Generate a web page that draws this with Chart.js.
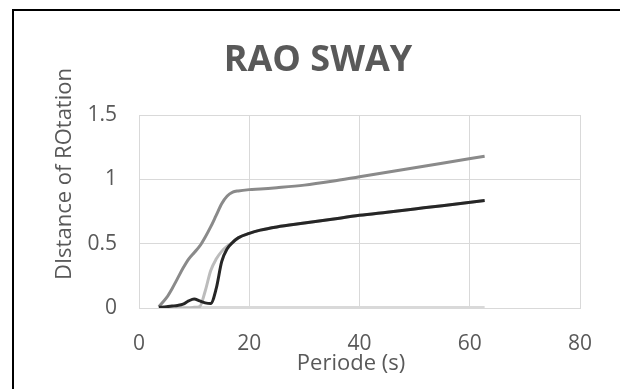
<!DOCTYPE html>
<html>
<head>
<meta charset="utf-8">
<script src="https://cdn.jsdelivr.net/npm/chart.js@4"></script>
<style>
  html, body { margin: 0; padding: 0; background: #fff; overflow: hidden; }
  .frame { position: absolute; left: 12px; top: 9px; width: 700px; height: 500px; border: 2px solid #000; }
  #raoSway { position: absolute; left: 0; top: 0; }
</style>
</head>
<body>
<div class="frame"></div>
<canvas id="raoSway" width="620" height="389"></canvas>
<script>
  // periods (s) shared by every series
  const periods = [3.6, 5, 6, 7, 8, 9, 10, 11, 12, 13, 14, 15, 16, 17, 18, 20, 22, 25, 30, 35, 40, 45, 50, 55, 62.7];

  const rotationUpper = [0.01, 0.08, 0.15, 0.23, 0.31, 0.38, 0.43, 0.48, 0.55, 0.63, 0.72, 0.81, 0.87, 0.90, 0.91, 0.92, 0.925, 0.935, 0.955, 0.985, 1.02, 1.055, 1.09, 1.125, 1.18];
  const rotationMid = [0, 0, 0, 0, 0, 0, 0.005, 0.01, 0.13, 0.29, 0.38, 0.44, 0.48, 0.51, 0.545, 0.58, 0.605, 0.63, 0.66, 0.69, 0.72, 0.745, 0.77, 0.795, 0.835];
  const rotationLower = [0.005, 0.01, 0.015, 0.02, 0.03, 0.055, 0.07, 0.055, 0.04, 0.035, 0.15, 0.36, 0.46, 0.51, 0.545, 0.58, 0.605, 0.63, 0.66, 0.69, 0.72, 0.745, 0.77, 0.795, 0.835];
  const rotationFlat = [0, 0, 0, 0, 0, 0, 0, 0, 0, 0, 0, 0, 0, 0, 0, 0, 0, 0, 0, 0, 0, 0, 0, 0, 0];

  const xTicks = [0, 20, 40, 60, 80];
  const yTicks = [0, 0.5, 1, 1.5];

  const textGray = '#595959';
  const gridGray = '#d9d9d9';
  const fontFamily = 'Open Sans';

  function toPoints(values) {
    return periods.map((p, i) => ({ x: p, y: values[i] }));
  }

  function series(label, values, color, width, order) {
    return {
      label: label,
      data: toPoints(values),
      borderColor: color,
      backgroundColor: color,
      borderWidth: width,
      pointRadius: 0,
      cubicInterpolationMode: 'monotone',
      order: order
    };
  }

  // axis titles sit where the spreadsheet put them, not centred on the plot
  const axisTitles = {
    id: 'axisTitles',
    afterDraw(chart) {
      const c = chart.ctx;
      c.save();
      c.fillStyle = textGray;
      c.font = '22px "' + fontFamily + '"';
      c.textAlign = 'center';
      c.textBaseline = 'middle';
      c.fillText('Periode (s)', 351, 364);
      c.translate(65, 174);
      c.rotate(-Math.PI / 2);
      c.fillText('DIstance of ROtation', 0, 0);
      c.restore();
    }
  };

  const ctx = document.getElementById('raoSway');

  const raoChart = new Chart(ctx, {
    type: 'line',
    data: {
      datasets: [
        series('Lower', rotationLower, '#262626', 3, 1),
        series('Mid', rotationMid, '#bcbcbc', 3, 2),
        series('Upper', rotationUpper, '#8a8a8a', 3, 3),
        series('Flat', rotationFlat, '#d9d9d9', 4, 4)
      ]
    },
    plugins: [axisTitles],
    options: {
      responsive: false,
      animation: false,
      layout: { padding: { left: 56, right: 40, top: 0, bottom: 0 } },
      plugins: {
        legend: { display: false },
        tooltip: { enabled: false },
        title: {
          display: true,
          text: 'RAO SWAY',
          color: textGray,
          font: { family: fontFamily, size: 36, weight: 'bold' },
          padding: { top: 39.4, bottom: 32.4 }
        }
      },
      scales: {
        x: {
          type: 'linear',
          min: 0,
          max: 80,
          afterBuildTicks: (scale) => { scale.ticks = xTicks.map(v => ({ value: v })); },
          afterFit: (scale) => { scale.height = 81; },
          grid: { color: gridGray, drawTicks: false },
          border: { color: gridGray },
          ticks: { color: textGray, padding: 23, font: { family: fontFamily, size: 21 }, callback: (v) => String(v) }
        },
        y: {
          min: 0,
          max: 1.5,
          afterBuildTicks: (scale) => { scale.ticks = yTicks.map(v => ({ value: v })); },
          afterFit: (scale) => { scale.width = 83; },
          grid: { color: gridGray, drawTicks: false },
          border: { color: gridGray },
          ticks: { color: textGray, padding: 22, font: { family: fontFamily, size: 21 }, callback: (v) => String(v) }
        }
      }
    }
  });
</script>
</body>
</html>
